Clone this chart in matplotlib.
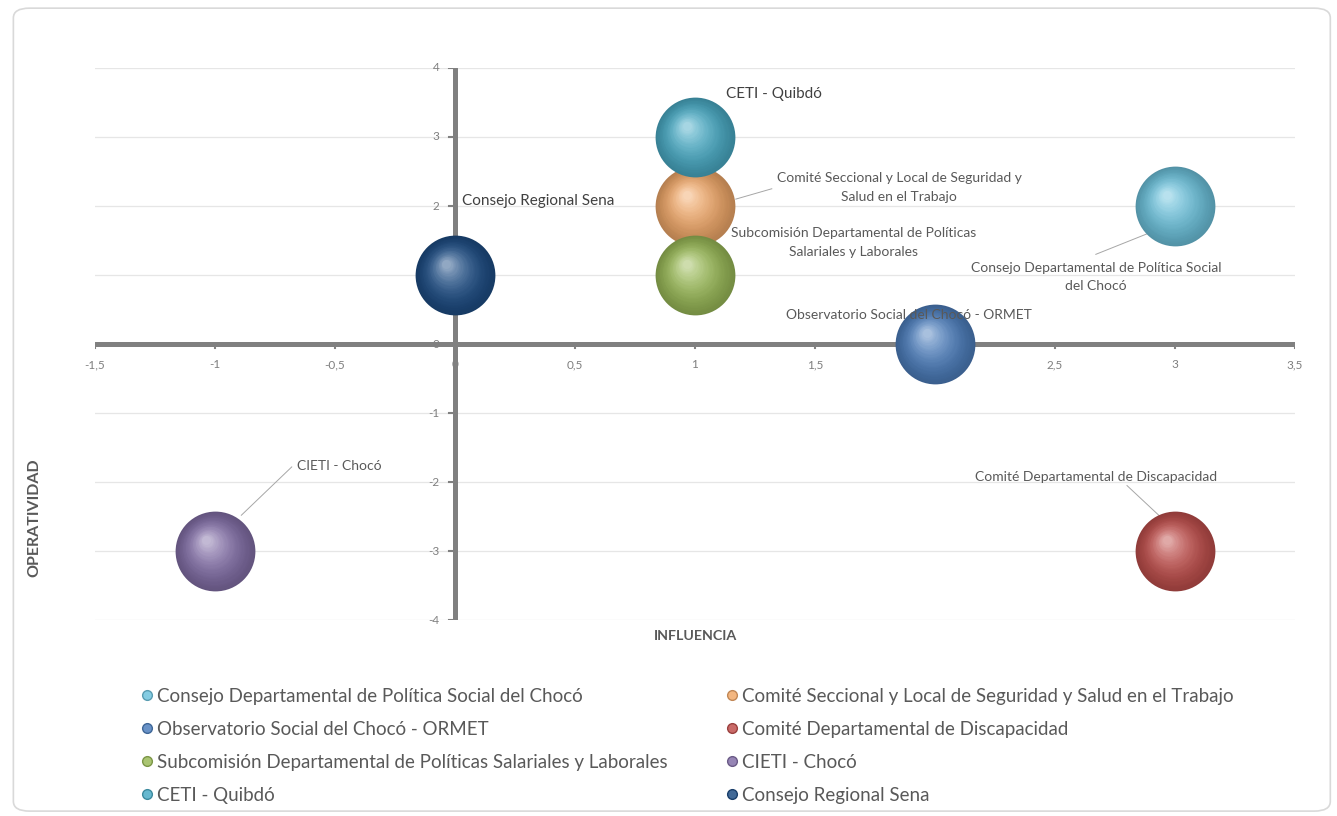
import matplotlib.pyplot as plt
import matplotlib.transforms as mtransforms
from matplotlib.patches import FancyBboxPatch
from matplotlib.lines import Line2D
import numpy as np

plt.rcParams['font.family'] = ['Lato', 'DejaVu Sans']

# datos del gráfico (orden de las series como en Excel)
series = [
    "Consejo Departamental de Política Social del Chocó",
    "Comité Seccional y Local de Seguridad y Salud en el Trabajo",
    "Observatorio Social del Chocó - ORMET",
    "Comité Departamental de Discapacidad",
    "Subcomisión Departamental de Políticas Salariales y Laborales",
    "CIETI - Chocó",
    "CETI - Quibdó",
    "Consejo Regional Sena",
]
influencia = [3, 1, 2, 3, 1, -1, 1, 0]
operatividad = [2, 2, 0, -3, 1, -3, 3, 1]
colores = ["#6EC3DD", "#F1A96A", "#4E7FBD", "#C0504D",
           "#9BBB59", "#8470A8", "#4BACC6", "#1F4E85"]

x_ticks = [-1.5, -1, -0.5, 0, 0.5, 1, 1.5, 2, 2.5, 3, 3.5]
x_tick_labels = ["-1,5", "-1", "-0,5", "0", "0,5", "1", "1,5", "2", "2,5", "3", "3,5"]
y_ticks = [-4, -3, -2, -1, 0, 1, 2, 3, 4]


def mezclar(c, otro, f):
    c = np.array(plt.matplotlib.colors.to_rgb(c))
    o = np.array(plt.matplotlib.colors.to_rgb(otro))
    return tuple(c * (1 - f) + o * f)


fig = plt.figure(figsize=(13.37, 8.16), dpi=100)
fig.patches.append(FancyBboxPatch((0.010, 0.006), 0.985, 0.984,
                                  boxstyle="round,pad=0,rounding_size=0.012",
                                  transform=fig.transFigure, facecolor="white",
                                  edgecolor="#d9d9d9", linewidth=1.2, zorder=-1))

ax = fig.add_axes([0.071, 0.240, 0.8976, 0.6767])
ax.set_xlim(-1.5, 3.5)
ax.set_ylim(-4, 4)
ax.patch.set_alpha(0)

# cuadrícula horizontal
for yv in y_ticks:
    if yv != 0:
        ax.axhline(yv, color="#e6e6e6", linewidth=0.9, zorder=0)

# ejes gruesos cruzando en cero
ax.axhline(0, color="#808080", linewidth=3.6, zorder=1, solid_capstyle="round")
ax.axvline(0, color="#808080", linewidth=3.6, zorder=1, solid_capstyle="round")
for s in ax.spines.values():
    s.set_visible(False)
ax.set_xticks([])
ax.set_yticks([])

# etiquetas de los ejes junto a las líneas
for xv, lab in zip(x_ticks, x_tick_labels):
    ax.text(xv, -0.3, lab, ha="center", va="center", fontsize=8.5, color="#7f7f7f")
    ax.plot([xv, xv], [0, -0.06], color="#808080", linewidth=1.5, zorder=1)
for yv in y_ticks:
    ax.text(-0.065, yv, str(yv), ha="right", va="center", fontsize=8.5, color="#7f7f7f")
    ax.plot([-0.025, 0], [yv, yv], color="#808080", linewidth=1.5, zorder=1)

# burbujas con efecto de esfera
tam = 3300
radio_pt = np.sqrt(tam) / 2
n = 28
for i in range(len(series)):
    base = colores[i]
    ax.scatter(influencia[i], operatividad[i], s=tam, color=mezclar(base, "black", 0.25),
               zorder=3, linewidths=0)
    for k in range(1, n):
        f = k / n
        dx = -0.22 * radio_pt * f
        dy = 0.28 * radio_pt * f
        tr = mtransforms.offset_copy(ax.transData, fig=fig, x=dx, y=dy, units="points")
        color = mezclar(mezclar(base, "black", 0.25 * (1 - f) ** 1.5), "white", 0.55 * f ** 2.2)
        ax.scatter(influencia[i], operatividad[i], s=tam * (1 - 0.92 * f) ** 2,
                   color=color, zorder=3, linewidths=0, transform=tr)

# etiquetas de datos
txt = dict(color="#595959", fontsize=10)
ax.text(1.13, 3.62, "CETI - Quibdó", ha="left", va="center", fontsize=11, color="#404040")
ax.text(0.03, 2.07, "Consejo Regional Sena", ha="left", va="center", fontsize=11, color="#404040")
ax.text(1.85, 2.27, "Comité Seccional y Local de Seguridad y\nSalud en el Trabajo",
        ha="center", va="center", linespacing=1.65, **txt)
ax.plot([1.17, 1.32], [2.1, 2.25], color="#a6a6a6", linewidth=0.7, zorder=2)
ax.text(1.66, 1.47, "Subcomisión Departamental de Políticas\nSalariales y Laborales",
        ha="center", va="center", linespacing=1.65, **txt)
ax.text(2.67, 0.97, "Consejo Departamental de Política Social\ndel Chocó",
        ha="center", va="center", linespacing=1.65, **txt)
ax.plot([2.9, 2.67], [1.62, 1.3], color="#a6a6a6", linewidth=0.7, zorder=2)
ax.text(1.89, 0.42, "Observatorio Social del Chocó - ORMET",
        ha="center", va="center", zorder=4, **txt)
ax.text(2.67, -1.92, "Comité Departamental de Discapacidad",
        ha="center", va="center", **txt)
ax.plot([2.8, 2.96], [-2.05, -2.57], color="#a6a6a6", linewidth=0.7, zorder=2)
ax.text(-0.66, -1.77, "CIETI - Chocó", ha="left", va="center", **txt)
ax.plot([-0.68, -0.89], [-1.78, -2.48], color="#a6a6a6", linewidth=0.7, zorder=2)

# títulos de ejes
fig.text(0.5205, 0.221, "INFLUENCIA", ha="center", va="center", fontsize=10.3,
         fontweight="bold", color="#595959")
fig.text(0.026, 0.366, "OPERATIVIDAD", ha="center", va="center", fontsize=11.5,
         fontweight="bold", color="#595959", rotation=90)

# leyenda (Excel la ordena por filas)
handles = [Line2D([], [], marker="o", linestyle="none", markersize=7,
                  markerfacecolor=mezclar(c, "white", 0.15),
                  markeredgecolor=mezclar(c, "black", 0.2)) for c in colores]
orden = list(range(0, 8, 2)) + list(range(1, 8, 2))
fig.legend([handles[i] for i in orden], [series[i] for i in orden],
           loc="upper left", bbox_to_anchor=(0.1, 0.166), ncol=2, frameon=False,
           fontsize=13.5, labelcolor="#595959", handlelength=0.6, handletextpad=0.25,
           columnspacing=3.1, labelspacing=0.85, borderaxespad=0)

fig.savefig("out.png", dpi=100)
